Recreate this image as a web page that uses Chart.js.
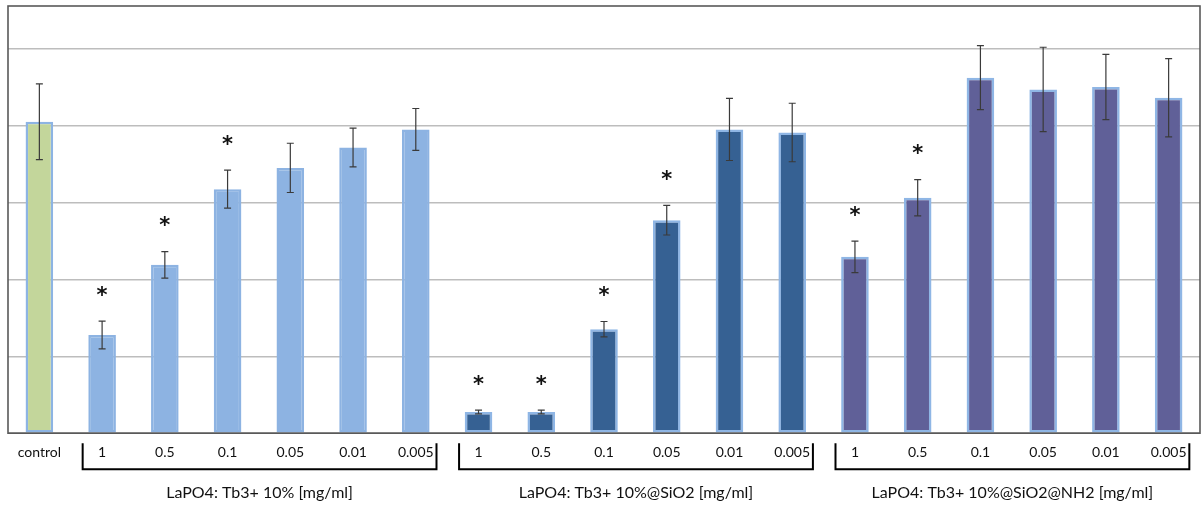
<!DOCTYPE html>
<html>
<head>
<meta charset="utf-8">
<script src="https://cdn.jsdelivr.net/npm/chart.js@4.4.1/dist/chart.umd.min.js"></script>
<style>
  html, body { margin: 0; padding: 0; background: #fff; }
  #wrap { width: 1202px; height: 505px; }
</style>
</head>
<body>
<div id="wrap"><canvas id="myChart"></canvas></div>
<script>
// concentrations tested for each particle type [mg/ml]
var concentrations = ['1', '0.5', '0.1', '0.05', '0.01', '0.005'];
var groupNames = [
  'LaPO4: Tb3+ 10% [mg/ml]',
  'LaPO4: Tb3+ 10%@SiO2 [mg/ml]',
  'LaPO4: Tb3+ 10%@SiO2@NH2 [mg/ml]'
];

// untreated control
var controlValue = 101.2;
var controlError = 12.3;

// LaPO4:Tb3+ 10%
var plainValues = [31.9, 54.7, 79.3, 86.2, 92.8, 98.7];
var plainErrors = [4.5, 4.3, 6.2, 8.0, 6.3, 6.8];
var plainStars = [true, true, true, false, false, false];

// LaPO4:Tb3+ 10%@SiO2
var sio2Values = [6.9, 6.9, 33.8, 69.2, 98.7, 97.7];
var sio2Errors = [0.6, 0.6, 2.5, 4.8, 10.1, 9.5];
var sio2Stars = [true, true, true, true, false, false];

// LaPO4:Tb3+ 10%@SiO2@NH2
var nh2Values = [57.3, 76.5, 115.5, 111.7, 112.5, 109.0];
var nh2Errors = [5.1, 5.9, 10.4, 13.7, 10.6, 12.7];
var nh2Stars = [true, true, false, false, false, false];

var gridStep = 25;
var axisMax = 138.8;

var groupFills = ['#8DB3E2', '#366193', '#606098'];
var groupBorders = ['#8DB3E2', '#8FB6E5', '#8FB6E5'];

var labels = ['control'].concat(concentrations, concentrations, concentrations);
var values = [controlValue].concat(plainValues, sio2Values, nh2Values);
var errors = [controlError].concat(plainErrors, sio2Errors, nh2Errors);
var stars = [false].concat(plainStars, sio2Stars, nh2Stars);

var fills = ['#C3D69B'];
var borders = ['#8DB4E3'];
groupNames.forEach(function (g, gi) {
  concentrations.forEach(function () {
    fills.push(groupFills[gi]);
    borders.push(groupBorders[gi]);
  });
});

// frame around the plot area
var framePlugin = {
  id: 'frame',
  afterDraw: function (chart) {
    var a = chart.chartArea;
    var ctx = chart.ctx;
    ctx.save();
    ctx.strokeStyle = '#595959';
    ctx.lineWidth = 1.6;
    ctx.strokeRect(a.left, a.top, a.right - a.left, a.bottom - a.top);
    ctx.restore();
  }
};

// error bars and significance asterisks
var errorPlugin = {
  id: 'errorBars',
  afterDatasetsDraw: function (chart) {
    var ctx = chart.ctx;
    var y = chart.scales.y;
    var meta = chart.getDatasetMeta(0);
    ctx.save();
    meta.data.forEach(function (bar, i) {
      var top = y.getPixelForValue(values[i] + errors[i]);
      var bot = y.getPixelForValue(values[i] - errors[i]);
      ctx.strokeStyle = '#3a3a3a';
      ctx.lineWidth = 1.2;
      ctx.beginPath();
      ctx.moveTo(bar.x, top);
      ctx.lineTo(bar.x, bot);
      ctx.moveTo(bar.x - 3.5, top);
      ctx.lineTo(bar.x + 3.5, top);
      ctx.moveTo(bar.x - 3.5, bot);
      ctx.lineTo(bar.x + 3.5, bot);
      ctx.stroke();
      if (stars[i]) {
        ctx.fillStyle = '#111';
        ctx.font = 'bold 21px "DejaVu Sans"';
        ctx.textAlign = 'center';
        ctx.textBaseline = 'middle';
        ctx.fillText('*', bar.x, top - 25);
      }
    });
    ctx.restore();
  }
};

// brackets and captions under each concentration series
var groupPlugin = {
  id: 'groups',
  afterDraw: function (chart) {
    var ctx = chart.ctx;
    var x = chart.scales.x;
    var bottom = chart.chartArea.bottom;
    var step = x.width / labels.length;
    ctx.save();
    groupNames.forEach(function (name, gi) {
      var first = 1 + gi * concentrations.length;
      var last = first + concentrations.length - 1;
      var left = x.getPixelForValue(first) - step * 0.31;
      var right = x.getPixelForValue(last) + step * 0.33;
      ctx.strokeStyle = '#000';
      ctx.lineWidth = 2;
      ctx.beginPath();
      ctx.moveTo(left, bottom + 10);
      ctx.lineTo(left, bottom + 36);
      ctx.lineTo(right, bottom + 36);
      ctx.lineTo(right, bottom + 10);
      ctx.stroke();
      ctx.fillStyle = '#111';
      ctx.font = '16px Lato';
      ctx.textAlign = 'center';
      ctx.textBaseline = 'middle';
      ctx.fillText(name, (left + right) / 2, bottom + 60);
    });
    ctx.restore();
  }
};

var chartData = {
  labels: labels,
  datasets: [
    {
      data: values,
      backgroundColor: fills,
      borderColor: borders,
      borderWidth: 2.5,
      borderSkipped: false,
      barPercentage: 0.44,
      categoryPercentage: 1
    }
  ]
};

var chart = document.getElementById('myChart').getContext('2d');
var myChart = new Chart(chart, {
  type: 'bar',
  data: chartData,
  plugins: [framePlugin, errorPlugin, groupPlugin],
  options: {
    responsive: true,
    maintainAspectRatio: false,
    animation: false,
    layout: {
      padding: { left: 8, top: 6, right: 2, bottom: 33 }
    },
    scales: {
      x: {
        grid: { display: false, drawTicks: false },
        border: { display: false },
        ticks: {
          color: '#111',
          font: { family: 'Lato', size: 14 },
          padding: 11,
          maxRotation: 0,
          autoSkip: false
        }
      },
      y: {
        min: 0,
        max: axisMax,
        grid: { color: '#BDBDBD', lineWidth: 1.5, drawTicks: false },
        border: { display: false },
        ticks: { display: false, stepSize: gridStep, includeBounds: false }
      }
    },
    plugins: {
      legend: { display: false },
      tooltip: { enabled: false }
    }
  }
});
</script>
</body>
</html>
